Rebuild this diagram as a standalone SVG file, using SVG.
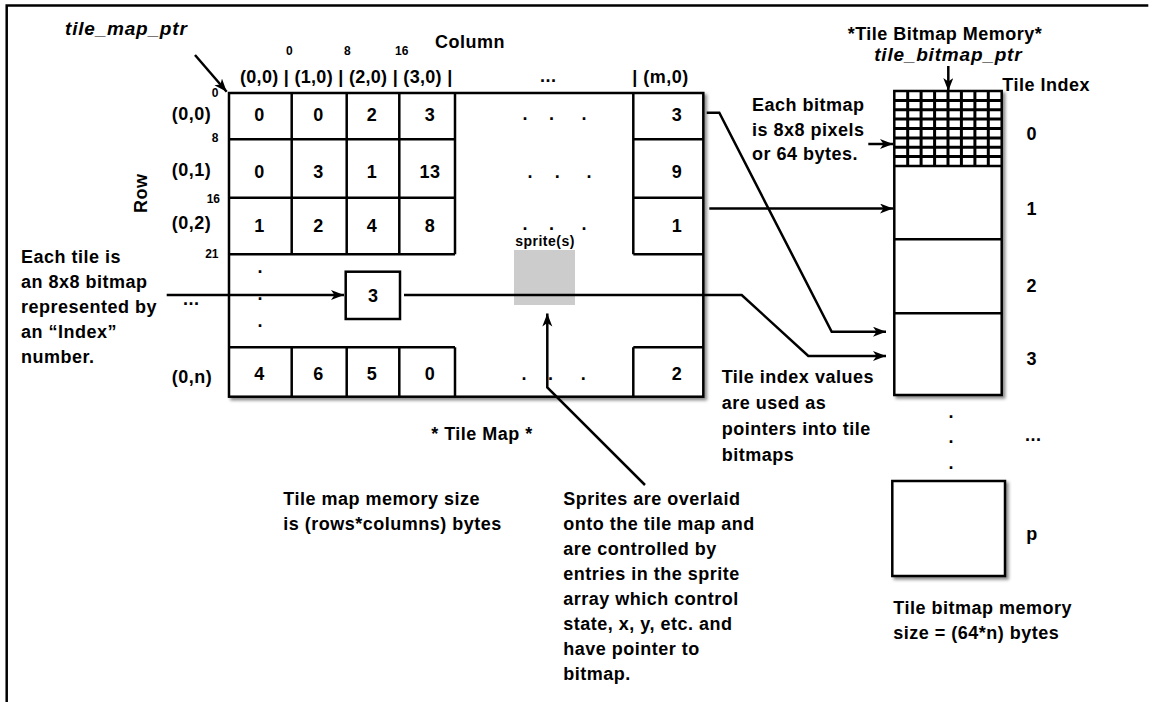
<svg xmlns="http://www.w3.org/2000/svg" width="1153" height="702" viewBox="0 0 1153 702">
<defs>
<style>
text { font-family: "Liberation Sans", Arial, Helvetica, sans-serif; font-weight: bold; fill: #000; }
.t { font-size: 18px; letter-spacing: 0.5px; }
.s { font-size: 12px; }
.it { font-size: 19px; font-style: italic; letter-spacing: 0.8px; }
.sp { font-size: 14px; letter-spacing: 0.5px; }
.c { text-anchor: middle; }
.e { text-anchor: end; }
.ln { fill: none; stroke: #000; stroke-width: 2.5; }
.fine { fill: none; stroke: #000; stroke-width: 3; }
.box { fill: #fff; stroke: #000; stroke-width: 2.5; }
.con { fill: none; stroke: #000; stroke-width: 2.5; }
.arr { marker-end: url(#ah); }
</style>
<filter id="sh" x="-5%" y="-5%" width="115%" height="115%">
<feDropShadow dx="2.5" dy="2.5" stdDeviation="1.5" flood-color="#000" flood-opacity="0.45"/>
</filter>
<marker id="ah" markerWidth="16" markerHeight="12" refX="13" refY="5" orient="auto" markerUnits="userSpaceOnUse">
<path d="M0,0 L13,5 L0,10 L3.5,5 z" fill="#000"/>
</marker>
</defs>

<g id="frame">
<path class="ln" d="M6.7,702 V5.5 H1148.3" stroke-width="2.3"/>
</g>

<g id="tile-map-labels">
<text class="it" x="65" y="35">tile_map_ptr</text>
<text class="t" x="435" y="48">Column</text>
<text class="s c" x="289.3" y="55">0</text>
<text class="s c" x="347.3" y="55">8</text>
<text class="s c" x="401.7" y="55">16</text>
<text class="t" x="240" y="83" style="letter-spacing:0.3px">(0,0) | (1,0) | (2,0) | (3,0) |</text>
<text class="t" x="540" y="82">...</text>
<text class="t" x="632.3" y="83">| (m,0)</text>
<text class="t" transform="translate(147,213) rotate(-90)">Row</text>
<text class="t" x="171.7" y="119.5">(0,0)</text>
<text class="t" x="171.7" y="176">(0,1)</text>
<text class="t" x="171.7" y="229">(0,2)</text>
<text class="t" x="171.7" y="383">(0,n)</text>
<text class="s e" x="218.5" y="96.5">0</text>
<text class="s e" x="218.5" y="141.7">8</text>
<text class="s e" x="220" y="203">16</text>
<text class="s e" x="218.5" y="257.5">21</text>
<text class="t c" x="482" y="440">* Tile Map *</text>
</g>

<g id="tile-map">
<rect class="box" x="229" y="93" width="474.3" height="303.7" filter="url(#sh)"/>
<path class="ln" d="M291.7,93 V254.3 M346.7,93 V254.3 M399.3,93 V254.3 M455,93 V254.3 M229,139.3 H455 M229,197.7 H455 M229,254.3 H455 M633.3,93 V254.3 M633.3,139.3 H703.3 M633.3,197.7 H703.3 M633.3,254.3 H703.3 M229,347.3 H455 M633.3,347.3 H703.3 M291.7,347.3 V396.7 M346.7,347.3 V396.7 M399.3,347.3 V396.7 M455,347.3 V396.7 M633.3,347.3 V396.7"/>
<text class="t c" x="259.5" y="120.7">0</text>
<text class="t c" x="318.5" y="120.7">0</text>
<text class="t c" x="372" y="120.7">2</text>
<text class="t c" x="430" y="120.7">3</text>
<text class="t c" x="677" y="120.5">3</text>
<text class="t c" x="259.5" y="178">0</text>
<text class="t c" x="318.5" y="178">3</text>
<text class="t c" x="372" y="178">1</text>
<text class="t c" x="430" y="178">13</text>
<text class="t c" x="677" y="178">9</text>
<text class="t c" x="259.5" y="231.5">1</text>
<text class="t c" x="318.5" y="231.5">2</text>
<text class="t c" x="372" y="231.5">4</text>
<text class="t c" x="430" y="231.5">8</text>
<text class="t c" x="677" y="231.5">1</text>
<text class="t c" x="259.5" y="380">4</text>
<text class="t c" x="318.5" y="380">6</text>
<text class="t c" x="372" y="380">5</text>
<text class="t c" x="430" y="380">0</text>
<text class="t c" x="677" y="380">2</text>
<text style="font-size:18px" x="522.4 549.1 581.4" y="120">...</text>
<text style="font-size:18px" x="527.4 554.7 586.4" y="178.3">...</text>
<text style="font-size:18px" x="522.4 549.1 581.4" y="230">...</text>
<text style="font-size:18px" x="521.4 548.1 580.7" y="380">...</text>
<text style="font-size:18px" x="257.5 257.5 257.5" y="273.3 299.7 326.7">...</text>
</g>

<g id="sprite">
<rect x="514" y="250" width="61" height="55" fill="#cccccc"/>
<text class="sp c" x="545" y="245.5">sprite(s)</text>
</g>

<g id="tile-entry">
<rect class="box" x="345.7" y="271.7" width="54.3" height="47.3"/>
<text class="t c" x="373.3" y="301.5">3</text>
</g>

<g id="bitmap-memory">
<text class="t c" x="945" y="39.5">*Tile Bitmap Memory*</text>
<text class="it c" x="948.3" y="61">tile_bitmap_ptr</text>
<text class="t" x="1002.3" y="90.5">Tile Index</text>
<rect class="box" x="894.3" y="91" width="107.4" height="304" filter="url(#sh)"/>
<path class="fine" d="M907.7,91 V166 M921.1,91 V166 M934.6,91 V166 M948,91 V166 M961.4,91 V166 M974.9,91 V166 M988.3,91 V166 M894.3,100.4 H1001.7 M894.3,109.8 H1001.7 M894.3,119.1 H1001.7 M894.3,128.5 H1001.7 M894.3,137.9 H1001.7 M894.3,147.2 H1001.7 M894.3,156.6 H1001.7"/>
<path class="ln" d="M894.3,166 H1001.7 M894.3,239.3 H1001.7 M894.3,313.3 H1001.7"/>
<text class="t c" x="1031.7" y="140">0</text>
<text class="t c" x="1031.7" y="215">1</text>
<text class="t c" x="1031.7" y="291.5">2</text>
<text class="t c" x="1031.7" y="365">3</text>
<text style="font-size:18px" x="948.4 948.4 948.4" y="417.5 443 468.5">...</text>
<text class="t" x="1025" y="441">...</text>
</g>

<g id="bitmap-p">
<rect class="box" x="892.3" y="481" width="112.7" height="95" filter="url(#sh)"/>
<text class="t c" x="1032" y="540">p</text>
</g>

<g id="notes">
<text class="t" x="752"><tspan x="752" y="111">Each bitmap</tspan><tspan x="752" y="135.5">is 8x8 pixels</tspan><tspan x="752" y="160">or 64 bytes.</tspan></text>
<text class="t" x="21"><tspan x="21" y="262.7">Each tile is</tspan><tspan x="21" y="288.3">an 8x8 bitmap</tspan><tspan x="21" y="313.3">represented by</tspan><tspan x="21" y="338.3">an “Index”</tspan><tspan x="21" y="363.3">number.</tspan></text>
<text class="t" x="183" y="305">...</text>
<text class="t" x="721.7"><tspan x="721.7" y="383">Tile index values</tspan><tspan x="721.7" y="409">are used as</tspan><tspan x="721.7" y="435">pointers into tile</tspan><tspan x="721.7" y="461">bitmaps</tspan></text>
<text class="t" x="283.3"><tspan x="283.3" y="505">Tile map memory size</tspan><tspan x="283.3" y="530">is (rows*columns) bytes</tspan></text>
<text class="t" x="563.3"><tspan x="563.3" y="505">Sprites are overlaid</tspan><tspan x="563.3" y="530">onto the tile map and</tspan><tspan x="563.3" y="555">are controlled by</tspan><tspan x="563.3" y="580">entries in the sprite</tspan><tspan x="563.3" y="605">array which control</tspan><tspan x="563.3" y="630">state, x, y, etc. and</tspan><tspan x="563.3" y="655">have pointer to</tspan><tspan x="563.3" y="680">bitmap.</tspan></text>
<text class="t" x="893.3"><tspan x="893.3" y="614">Tile bitmap memory</tspan><tspan x="893.3" y="639">size = (64*n) bytes</tspan></text>
</g>

<g id="connectors">
<path class="con arr" d="M195,55 L226.7,91.7"/>
<path class="con arr" d="M948.3,66 V91"/>
<path class="con arr" d="M166.7,295 H344"/>
<path class="con arr" d="M706.7,112.7 H719.3 L831.7,331.7 H886"/>
<path class="con arr" d="M709.3,208.5 H893"/>
<path class="con arr" d="M404,295 H741.7 L808.3,356 H886"/>
<path class="con arr" d="M645,485 L547.3,387.5 V313.5"/>
<path class="con arr" d="M868.3,144 H893"/>
</g>
</svg>
